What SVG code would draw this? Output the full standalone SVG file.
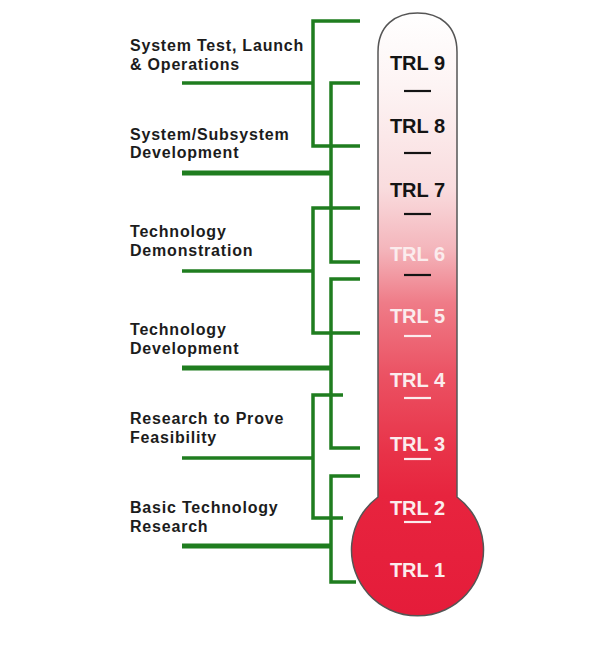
<svg xmlns="http://www.w3.org/2000/svg" width="600" height="646" viewBox="0 0 600 646">
<style>
.lbl{font-family:"Liberation Sans",Arial,sans-serif;font-weight:bold;font-size:16px;letter-spacing:0.8px;fill:#1c1c1c}
.trl{font-family:"Liberation Sans",Arial,sans-serif;font-weight:bold;font-size:20px;text-anchor:middle}
.dk{fill:#141414}
.wt{fill:#fbeced}
.g{stroke:#1f7d1f;stroke-width:3.5;fill:none;stroke-linecap:butt;stroke-linejoin:miter}
.gt{stroke:#1f7d1f;stroke-width:5;fill:none}
.dd{stroke:#141414;stroke-width:2.2}
.dw{stroke:#fbeced;stroke-width:2.2}
</style>
<defs>
<linearGradient id="tube" gradientUnits="userSpaceOnUse" x1="0" y1="13" x2="0" y2="616">
<stop offset="0" stop-color="#ffffff"/>
<stop offset="0.12" stop-color="#fdf4f4"/>
<stop offset="0.29" stop-color="#f9dcde"/>
<stop offset="0.39" stop-color="#f4b6bc"/>
<stop offset="0.48" stop-color="#ef7c88"/>
<stop offset="0.6" stop-color="#eb5263"/>
<stop offset="0.73" stop-color="#e83248"/>
<stop offset="0.8" stop-color="#e7243e"/>
<stop offset="1" stop-color="#e51c3a"/>
</linearGradient>
</defs>
<rect width="600" height="646" fill="#ffffff"/>
<g id="thermometer">
<path d="M378,497 L378,52 C378,25 396,13 417.5,13 C439,13 457,25 457,52 L457,497 A66,66 0 1 1 378,497 Z" fill="url(#tube)" stroke="#555" stroke-width="1.5"/>
</g>
<g id="trl-levels">
<text class="trl dk" x="417.5" y="70">TRL 9</text>
<text class="trl dk" x="417.5" y="133">TRL 8</text>
<text class="trl dk" x="417.5" y="197">TRL 7</text>
<text class="trl wt" x="417.5" y="261">TRL 6</text>
<text class="trl wt" x="417.5" y="323">TRL 5</text>
<text class="trl wt" x="417.5" y="387">TRL 4</text>
<text class="trl wt" x="417.5" y="451">TRL 3</text>
<text class="trl wt" x="417.5" y="515">TRL 2</text>
<text class="trl wt" x="417.5" y="577">TRL 1</text>
<line class="dd" x1="404" y1="91" x2="431" y2="91"/>
<line class="dd" x1="404" y1="153" x2="431" y2="153"/>
<line class="dd" x1="404" y1="214" x2="431" y2="214"/>
<line class="dd" x1="404" y1="275" x2="431" y2="275"/>
<line class="dw" x1="404" y1="336" x2="431" y2="336"/>
<line class="dw" x1="404" y1="398" x2="431" y2="398"/>
<line class="dw" x1="404" y1="459" x2="431" y2="459"/>
<line class="dw" x1="404" y1="522" x2="431" y2="522"/>
</g>
<g id="phase-labels">
<text class="lbl" x="130" y="51">System Test, Launch</text>
<text class="lbl" x="130" y="69.5">&amp; Operations</text>
<text class="lbl" x="130" y="139.5">System/Subsystem</text>
<text class="lbl" x="130" y="158">Development</text>
<text class="lbl" x="130" y="237">Technology</text>
<text class="lbl" x="130" y="255.5">Demonstration</text>
<text class="lbl" x="130" y="335">Technology</text>
<text class="lbl" x="130" y="353.5">Development</text>
<text class="lbl" x="130" y="424">Research to Prove</text>
<text class="lbl" x="130" y="442.5">Feasibility</text>
<text class="lbl" x="130" y="513">Basic Technology</text>
<text class="lbl" x="130" y="531.5">Research</text>
</g>
<g id="connectors">
<path class="g" d="M360,21 H313 V146 H360"/>
<line class="g" x1="182" y1="83" x2="313" y2="83"/>
<path class="g" d="M360,83 H331 V262 H360"/>
<line class="gt" x1="182" y1="173" x2="331" y2="173"/>
<path class="g" d="M360,208 H313 V333 H360"/>
<line class="g" x1="182" y1="271" x2="313" y2="271"/>
<path class="g" d="M360,279 H331 V448 H360"/>
<line class="gt" x1="182" y1="368" x2="331" y2="368"/>
<path class="g" d="M343,395 H313 V518 H343"/>
<line class="g" x1="182" y1="458" x2="313" y2="458"/>
<path class="g" d="M360,476 H331 V582 H356"/>
<line class="gt" x1="182" y1="546" x2="331" y2="546"/>
</g>
</svg>
